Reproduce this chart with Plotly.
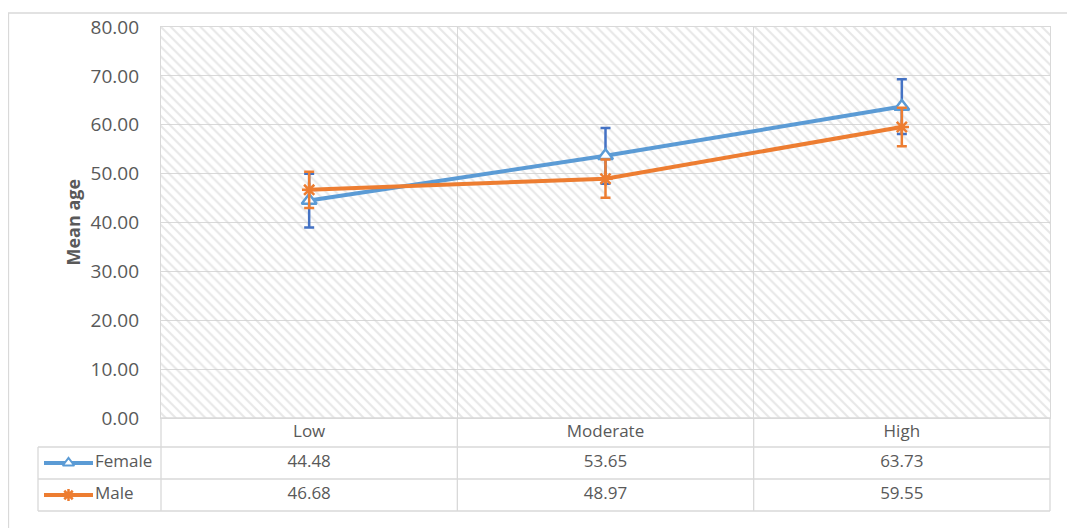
import plotly.graph_objects as go

# ---------------- data ----------------
categories = ["Low", "Moderate", "High"]
series_names = ["Female", "Male"]
female = [44.48, 53.65, 63.73]
male = [46.68, 48.97, 59.55]
female_err = [5.5, 5.7, 5.6]
male_err = [3.7, 3.9, 3.95]
y_ticks = [0, 10, 20, 30, 40, 50, 60, 70, 80]

# ---------------- layout geometry (page pixels; page body has an 8px margin) ----------------
W, H = 1075, 528
OFF = 8                     # default body margin of the html page
def px(v):                  # page pixel -> figure pixel
    return v - OFF

PX0, PX1 = px(161), px(1050)      # plot area left/right
PY0, PY1 = px(27), px(418)        # plot area top/bottom
TBL_LEFT = px(38)
ROW_EDGES = [px(418), px(447), px(479), px(511)]

FEMALE_C = "#5B9BD5"
FEMALE_ERR = "#4472C4"
MALE_C = "#ED7D31"
GRID = "#D9D9D9"
TXT = "#595959"
FONT = "Open Sans"

fig = go.Figure()

# hatched plot background
fig.add_trace(go.Scatter(
    x=[-0.5, len(categories) - 0.5, len(categories) - 0.5, -0.5, -0.5],
    y=[y_ticks[0], y_ticks[0], y_ticks[-1], y_ticks[-1], y_ticks[0]],
    mode="lines", fill="toself", line=dict(width=0),
    fillcolor="rgba(0,0,0,0)",
    fillpattern=dict(shape="\\", fgcolor="#D0D0D0", bgcolor="rgba(0,0,0,0)",
                     size=7, solidity=0.3),
    hoverinfo="skip", showlegend=False, xaxis="x", yaxis="y"))

xs = list(range(len(categories)))
fig.add_trace(go.Scatter(
    x=xs, y=female, name="Female", mode="lines+markers",
    line=dict(color=FEMALE_C, width=4),
    marker=dict(symbol="triangle-up", size=13, color="white",
                line=dict(color=FEMALE_C, width=2.5)),
    error_y=dict(type="data", array=female_err, color=FEMALE_ERR,
                 thickness=2.5, width=5),
    showlegend=False, xaxis="x", yaxis="y"))
fig.add_trace(go.Scatter(
    x=xs, y=male, name="Male", mode="lines+markers",
    line=dict(color=MALE_C, width=4),
    marker=dict(symbol="asterisk-open", size=12, color=MALE_C,
                line=dict(color=MALE_C, width=2.5)),
    error_y=dict(type="data", array=male_err, color=MALE_C,
                 thickness=2.5, width=5),
    showlegend=False, xaxis="x", yaxis="y"))

# ---------------- data table (pixel canvas axis x2/y2) ----------------
col_w = (PX1 - PX0) / len(categories)
col_edges = [PX0 + i * col_w for i in range(len(categories) + 1)]
col_centers = [(col_edges[i] + col_edges[i + 1]) / 2 for i in range(len(categories))]
row_centers = [(ROW_EDGES[i] + ROW_EDGES[i + 1]) / 2 for i in range(3)]

TFONT = dict(family=FONT, size=17, color=TXT)

# header labels
fig.add_trace(go.Scatter(
    x=col_centers, y=[row_centers[0]] * len(categories), text=categories,
    mode="text", textfont=TFONT,
    hoverinfo="skip", showlegend=False, xaxis="x2", yaxis="y2"))
# values
for r, vals in enumerate([female, male]):
    fig.add_trace(go.Scatter(
        x=col_centers, y=[row_centers[r + 1]] * len(vals),
        text=[f"{v:.2f}" for v in vals],
        mode="text", textfont=TFONT,
        hoverinfo="skip", showlegend=False, xaxis="x2", yaxis="y2"))

# legend keys in the table
keys = [
    (FEMALE_C, dict(symbol="triangle-up", size=10, color="white",
                    line=dict(color=FEMALE_C, width=2))),
    (MALE_C, dict(symbol="asterisk-open", size=10, color=MALE_C,
                  line=dict(color=MALE_C, width=2.5))),
]
for r, (name, (col, mk)) in enumerate(zip(series_names, keys)):
    yc = row_centers[r + 1]
    fig.add_trace(go.Scatter(
        x=[px(44), px(93)], y=[yc, yc], mode="lines", line=dict(color=col, width=4),
        hoverinfo="skip", showlegend=False, xaxis="x2", yaxis="y2"))
    fig.add_trace(go.Scatter(
        x=[px(68.5)], y=[yc], mode="markers", marker=mk,
        hoverinfo="skip", showlegend=False, xaxis="x2", yaxis="y2"))
    fig.add_trace(go.Scatter(
        x=[px(95)], y=[yc], text=[name], mode="text", textposition="middle right",
        textfont=TFONT,
        hoverinfo="skip", showlegend=False, xaxis="x2", yaxis="y2"))

shapes = []
def hline(y, x0, x1):
    shapes.append(dict(type="line", xref="x2", yref="y2", x0=x0, x1=x1, y0=y, y1=y,
                       line=dict(color=GRID, width=1.3), layer="above"))
def vline(x, y0, y1):
    shapes.append(dict(type="line", xref="x2", yref="y2", x0=x, x1=x, y0=y0, y1=y1,
                       line=dict(color=GRID, width=1.3), layer="above"))

hline(ROW_EDGES[0], PX0, PX1)
for y in ROW_EDGES[1:]:
    hline(y, TBL_LEFT, PX1)
for x in col_edges:
    vline(x, ROW_EDGES[0], ROW_EDGES[-1])
vline(TBL_LEFT, ROW_EDGES[1], ROW_EDGES[-1])

# outer chart border
shapes.append(dict(type="rect", xref="x2", yref="y2", x0=px(8.5), x1=W + 10,
                   y0=px(13), y1=H + 10,
                   line=dict(color=GRID, width=1.3), layer="below"))

fig.update_layout(
    width=W, height=H,
    margin=dict(l=0, r=0, t=0, b=0, autoexpand=False),
    paper_bgcolor="white", plot_bgcolor="rgba(0,0,0,0)",
    font=dict(family=FONT, color=TXT),
    shapes=shapes,
    xaxis=dict(domain=[PX0 / W, PX1 / W], range=[-0.5, len(categories) - 0.5],
               tick0=-0.5, dtick=1, showticklabels=False, ticks="",
               showgrid=True, gridcolor=GRID, gridwidth=1.3, zeroline=False,
               showline=True, mirror=True, linecolor=GRID, linewidth=1.3,
               automargin=False, fixedrange=True),
    yaxis=dict(domain=[(H - PY1) / H, (H - PY0) / H], range=[y_ticks[0], y_ticks[-1]],
               tickvals=y_ticks, tickformat=".2f", ticks="",
               tickfont=dict(family=FONT, size=19, color=TXT),
               ticklabelstandoff=17,
               showgrid=True, gridcolor=GRID, gridwidth=1.3, zeroline=False,
               showline=True, mirror=True, linecolor=GRID, linewidth=1.3,
               automargin=False, fixedrange=True),
    xaxis2=dict(domain=[0, 1], range=[0, W], visible=False, anchor="y2",
                automargin=False, fixedrange=True),
    yaxis2=dict(domain=[0, 1], range=[H, 0], visible=False, anchor="x2",
                automargin=False, fixedrange=True),
    annotations=[dict(
        text="<b>Mean age</b>", x=px(72), y=(PY0 + PY1) / 2, xref="x2", yref="y2",
        textangle=-90, showarrow=False,
        font=dict(family=FONT, size=18, color=TXT))],
)

fig.write_html("out.html")
